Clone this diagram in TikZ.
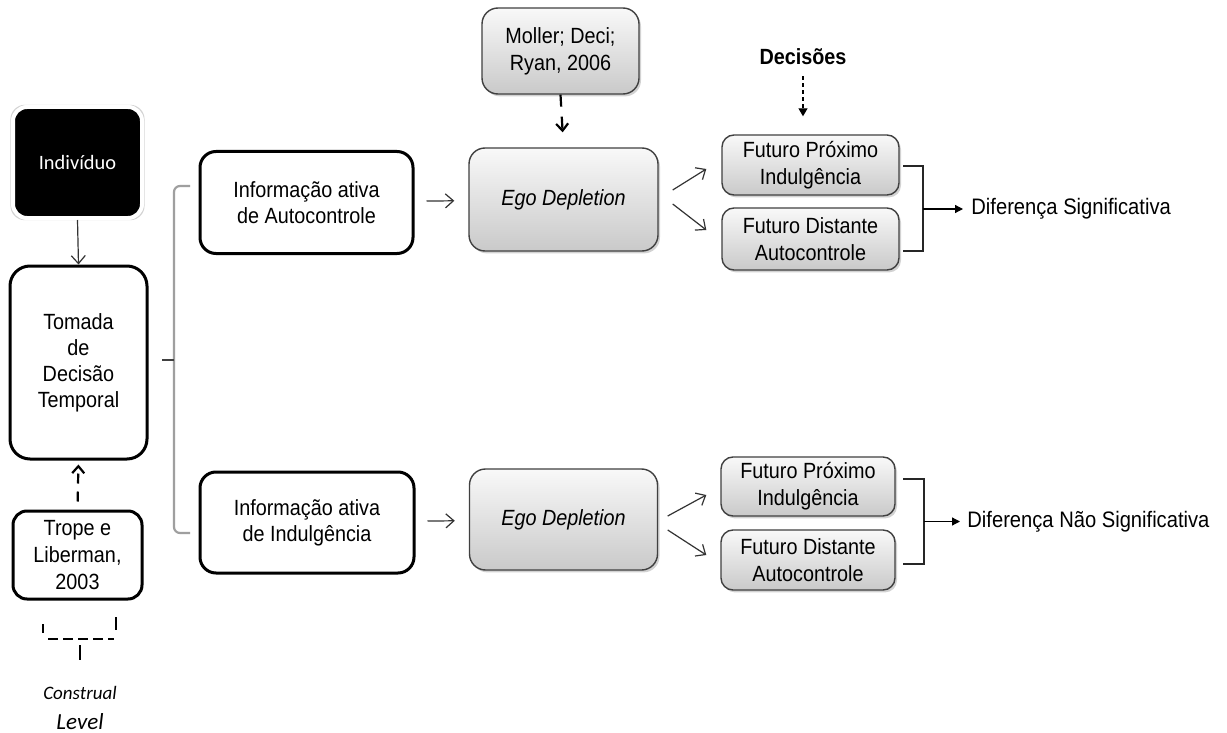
\documentclass[tikz,border=0pt]{standalone}
\usepackage{fontspec}
\setmainfont{Liberation Sans}[FakeStretch=0.9]
\newfontfamily\calfont{Carlito}
\usetikzlibrary{arrows.meta,shadows,calc}
\begin{document}
\begin{tikzpicture}[x=0.5pt,y=-0.5pt,
  font=\fontsize{11}{13}\selectfont,
  blackbox/.style={draw=black, line width=1.5pt, rounded corners=8pt, fill=white, align=center, inner sep=0pt},
  graybox/.style={draw=black!75, line width=0.7pt, rounded corners=6pt, top color=gray!5, bottom color=gray!42, align=center, inner sep=0pt,
     drop shadow={shadow xshift=1pt, shadow yshift=-1.2pt, opacity=0.35, fill=gray}},
  thinarr/.style={draw=black!80, line width=0.6pt, -{Straight Barb[length=4pt,width=7pt]}},
  dasharr/.style={draw=black, line width=1.1pt, dash pattern=on 5pt off 4pt, -{Straight Barb[length=3.5pt,width=6pt]}},
  solidarr/.style={draw=black, line width=0.6pt, -{Triangle[length=4pt,width=4pt]}},
  bracketline/.style={draw=black!85, line width=0.6pt},
  tallfont/.style={font=\fontsize{11}{13.6}\selectfont},
]
\useasboundingbox[fill=white] (0,0) rectangle (1227,733);

% left column
\node[blackbox, fill=black, draw=white, line width=2pt, rounded corners=7pt, text=white,
      font=\calfont\fontsize{10.2}{12}\selectfont, minimum width=64.5pt, minimum height=55.5pt,
      drop shadow={shadow xshift=0pt, shadow yshift=0pt, shadow scale=1.04, opacity=0.35, fill=gray}]
      (indiv) at (77.5,162.5) {Indivíduo};
\node[blackbox, rounded corners=10pt, minimum width=68.5pt, minimum height=96.5pt] (tomada) at (78.5,362.5) {Tomada\\de\\Decisão\\Temporal};
\node[blackbox, tallfont, rounded corners=7pt, minimum width=64.5pt, minimum height=44pt] (trope) at (77.5,555) {Trope e\\Liberman,\\2003};
\node[font=\calfont\itshape\fontsize{9.5}{11}\selectfont] (constr) at (80,693) {Construal};
\node[font=\calfont\itshape\fontsize{11.5}{13}\selectfont] (level) at (80,722) {Level};

% information boxes
\node[blackbox, minimum width=106.5pt, minimum height=51pt] (infoA) at (306.5,202.5) {Informação ativa\\de Autocontrole};
\node[blackbox, minimum width=107pt, minimum height=50.5pt] (infoI) at (307,522.5) {Informação ativa\\de Indulgência};

% ego depletion boxes
\node[graybox, rounded corners=8pt, minimum width=94.5pt, minimum height=51.5pt] (egoA) at (563.5,199.5) {\itshape Ego Depletion};
\node[graybox, rounded corners=8pt, minimum width=94pt, minimum height=50.5pt] (egoI) at (563.5,519.5) {\itshape Ego Depletion};
\node[graybox, tallfont, rounded corners=8pt, minimum width=78.5pt, minimum height=43pt] (moller) at (560.5,51) {Moller; Deci;\\Ryan, 2006};

% futuro boxes
\node[graybox, tallfont, minimum width=88.5pt, minimum height=30pt] (fpA) at (810.5,165) {Futuro Próximo\\Indulgência};
\node[graybox, tallfont, minimum width=88.5pt, minimum height=31pt] (fdA) at (810.5,239) {Futuro Distante\\Autocontrole};
\node[graybox, tallfont, minimum width=87pt, minimum height=29.5pt] (fpI) at (808,486.5) {Futuro Próximo\\Indulgência};
\node[graybox, tallfont, minimum width=87pt, minimum height=30pt] (fdI) at (808,560) {Futuro Distante\\Autocontrole};

\node[font=\bfseries\fontsize{11}{13}\selectfont] (dec) at (803,57) {Decisões};
\node[anchor=west, inner sep=0pt, font=\fontsize{11.2}{13}\selectfont] (difS) at (971,209) {Diferença Significativa};
\node[anchor=west, inner sep=0pt, font=\fontsize{11.2}{13}\selectfont] (difN) at (967,521.5) {Diferença Não Significativa};

% connectors left
\draw[thinarr] (indiv.south) -- (tomada.north);
\draw[dasharr, shorten <=4pt, shorten >=2pt] (trope.north) -- (tomada.south);

% left brace
\coordinate (brT) at (190,186);
\coordinate (brB) at (190,533);
\coordinate (brM) at (174,360);
\coordinate (brTip) at (162,360);
\draw[gray!75, line width=1.1pt, rounded corners=3pt] (brT) -| (brM) |- (brB);
\draw[black!75, line width=1.3pt] (brM) -- (brTip);

% construal level brace
\draw[black, line width=1.1pt] (43,624) -- (43,633);
\draw[black, line width=1.1pt, dash pattern=on 5pt off 2.5pt] (48,639) -- (114,639);
\draw[black, line width=1.1pt] (116,617) -- (116,630);
\draw[black, line width=1.1pt] (80,645) -- (80,660);

% information -> ego
\draw[thinarr, shorten <=6pt, shorten >=7pt] (infoA) -- (egoA);
\draw[thinarr, shorten <=6pt, shorten >=7pt] (infoI) -- (egoI);
\draw[dasharr, dash pattern=on 6pt off 5pt, shorten >=7.5pt] (moller.south) -- (egoA.north);
\draw[black, line width=0.6pt, dash pattern=on 2pt off 1.5pt, -{Triangle[length=4pt,width=4.5pt]}, shorten <=2pt, shorten >=9pt] (dec.south) -- (dec.south |- fpA.north);

% ego -> futuro
\draw[thinarr] ([xshift=7pt,yshift=4.75pt]egoA.east) -- ([xshift=-7.5pt,yshift=-2pt]fpA.west);
\draw[thinarr] ([xshift=7pt,yshift=-2.25pt]egoA.east) -- ([xshift=-7.5pt,yshift=4.5pt]fdA.west);
\draw[thinarr] ([xshift=4.75pt,yshift=1.75pt]egoI.east) -- ([xshift=-7pt,yshift=-4.25pt]fpI.west);
\draw[thinarr] ([xshift=4.75pt,yshift=-5.25pt]egoI.east) -- ([xshift=-7pt,yshift=2.5pt]fdI.west);

% right brackets
\coordinate (bAt) at (903,166);
\coordinate (bAb) at (903,251);
\coordinate (bAm) at (923,209);
\draw[bracketline] (bAt) -| (bAm) |- (bAb);
\draw[solidarr, shorten >=4pt] (bAm) -- (difS.west);
\coordinate (bIt) at (903,479);
\coordinate (bIb) at (903,564);
\coordinate (bIm) at (924,521.5);
\draw[bracketline] (bIt) -| (bIm) |- (bIb);
\draw[solidarr, shorten >=3.5pt] (bIm) -- (difN.west);
\end{tikzpicture}
\end{document}
